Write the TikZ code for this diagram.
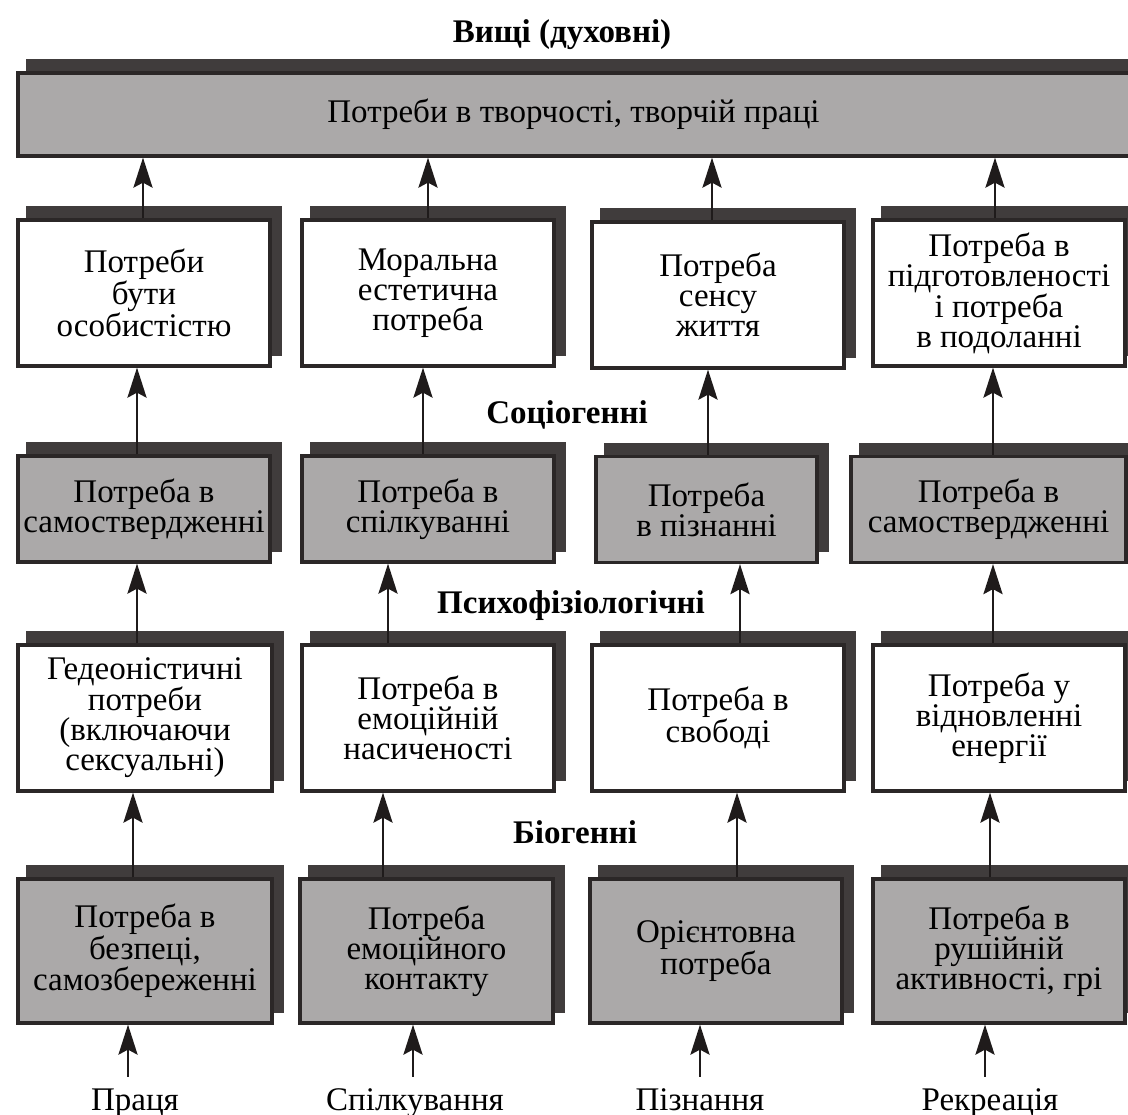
\documentclass[tikz,border=0pt]{standalone}
\usepackage{fontspec}
\setmainfont{Liberation Serif}
\usetikzlibrary{shadows,arrows.meta}
\definecolor{boxgray}{HTML}{ABA9A9}
\definecolor{shadowc}{HTML}{403C3C}
\definecolor{edgec}{HTML}{2B2727}
\definecolor{arrc}{HTML}{1F1B1B}
\begin{document}
\begin{tikzpicture}[x=1pt,y=-1pt,
  basebox/.style={draw=edgec, line width=3.2pt, inner sep=0pt, align=center,
    font=\fontsize{33}{30}\selectfont,
    copy shadow={shadow xshift=10pt, shadow yshift=12pt, fill=shadowc, draw=shadowc}},
  graybox/.style={basebox, fill=boxgray},
  whitebox/.style={basebox, fill=white},
  level/.style={font=\fontsize{33}{30}\selectfont\bfseries, anchor=base, inner sep=0pt},
  source/.style={font=\fontsize{33}{30}\selectfont, anchor=base, inner sep=0pt, text height=22pt, text depth=7pt},
  arr/.style={draw=arrc, line width=2.8pt, -{Stealth[length=30pt,width=19pt,inset=5pt]}}
]
\useasboundingbox (0,0) rectangle (1128,1115);

% level labels
\node[level] (lv1) at (562,43) {Вищі (духовні)};
\node[level] (lv2) at (567,424) {Соціогенні};
\node[level] (lv3) at (571,613) {Психофізіологічні};
\node[level] (lv4) at (575,843) {Біогенні};

% top box
\node[graybox, minimum width=1127, minimum height=83] (top) at (581.5,114.5)
  {\hspace*{-16pt}Потреби в творчості, творчій праці};

% row 1
\node[whitebox, minimum width=252, minimum height=146] (r1c1) at (144,293) {Потреби\\бути\\особистістю};
\node[whitebox, minimum width=252, minimum height=146] (r1c2) at (428,293) {Моральна\\естетична\\потреба};
\node[whitebox, minimum width=252, minimum height=146] (r1c3) at (718,295) {Потреба\\сенсу\\життя};
\node[whitebox, minimum width=252, minimum height=146] (r1c4) at (999,293) {Потреба в\\підготовленості\\і потреба\\в подоланні};

% row 2
\node[graybox, minimum width=252, minimum height=106] (r2c1) at (144,509) {Потреба в\\самоствердженні};
\node[graybox, minimum width=252, minimum height=106] (r2c2) at (428,509) {Потреба в\\спілкуванні};
\node[graybox, minimum width=221, minimum height=106] (r2c3) at (706.5,509.5) {Потреба\\в пізнанні};
\node[graybox, minimum width=275, minimum height=106] (r2c4) at (988.5,509.5) {Потреба в\\самоствердженні};

% row 3
\node[whitebox, minimum width=254, minimum height=146] (r3c1) at (145,718) {Гедеоністичні\\потреби\\(включаючи\\сексуальні)};
\node[whitebox, minimum width=252, minimum height=146] (r3c2) at (428,718) {Потреба в\\емоційній\\насиченості};
\node[whitebox, minimum width=252, minimum height=146] (r3c3) at (718,718) {Потреба в\\свободі};
\node[whitebox, minimum width=252, minimum height=146] (r3c4) at (999,718) {Потреба у\\відновленні\\енергії};

% row 4
\node[graybox, minimum width=254, minimum height=144] (r4c1) at (145,951) {Потреба в\\безпеці,\\самозбереженні};
\node[graybox, minimum width=253, minimum height=144] (r4c2) at (426.5,951) {Потреба\\емоційного\\контакту};
\node[graybox, minimum width=252, minimum height=144] (r4c3) at (716,951) {Орієнтовна\\потреба};
\node[graybox, minimum width=252, minimum height=144] (r4c4) at (999,951) {Потреба в\\рушійній\\активності, грі};

% sources
\node[source] (s1) at (135,1110) {Праця};
\node[source] (s2) at (415,1110) {Спілкування};
\node[source] (s3) at (700,1110) {Пізнання};
\node[source] (s4) at (990,1110) {Рекреація};

% arrow x positions
\coordinate (a11) at (143,0); \coordinate (a12) at (428,0); \coordinate (a13) at (712,0); \coordinate (a14) at (995,0);
\coordinate (a21) at (137,0); \coordinate (a22) at (423,0); \coordinate (a23) at (708,0); \coordinate (a24) at (993,0);
\coordinate (a31) at (137,0); \coordinate (a32) at (388,0); \coordinate (a33) at (740,0); \coordinate (a34) at (993,0);
\coordinate (a41) at (133,0); \coordinate (a42) at (383,0); \coordinate (a43) at (737,0); \coordinate (a44) at (990,0);
\coordinate (a51) at (128,0); \coordinate (a52) at (413,0); \coordinate (a53) at (700,0); \coordinate (a54) at (985,0);

\draw[arr] (r1c1.north -| a11) -- (top.south -| a11);
\draw[arr] (r1c2.north -| a12) -- (top.south -| a12);
\draw[arr] (r1c3.north -| a13) -- (top.south -| a13);
\draw[arr] (r1c4.north -| a14) -- (top.south -| a14);

\draw[arr] (r2c1.north -| a21) -- (r1c1.south -| a21);
\draw[arr] (r2c2.north -| a22) -- (r1c2.south -| a22);
\draw[arr] (r2c3.north -| a23) -- (r1c3.south -| a23);
\draw[arr] (r2c4.north -| a24) -- (r1c4.south -| a24);

\draw[arr] (r3c1.north -| a31) -- (r2c1.south -| a31);
\draw[arr] (r3c2.north -| a32) -- (r2c2.south -| a32);
\draw[arr] (r3c3.north -| a33) -- (r2c3.south -| a33);
\draw[arr] (r3c4.north -| a34) -- (r2c4.south -| a34);

\draw[arr] (r4c1.north -| a41) -- (r3c1.south -| a41);
\draw[arr] (r4c2.north -| a42) -- (r3c2.south -| a42);
\draw[arr] (r4c3.north -| a43) -- (r3c3.south -| a43);
\draw[arr] (r4c4.north -| a44) -- (r3c4.south -| a44);

\draw[arr, shorten <=11pt] (s1.north -| a51) -- (r4c1.south -| a51);
\draw[arr, shorten <=11pt] (s2.north -| a52) -- (r4c2.south -| a52);
\draw[arr, shorten <=11pt] (s3.north -| a53) -- (r4c3.south -| a53);
\draw[arr, shorten <=11pt] (s4.north -| a54) -- (r4c4.south -| a54);
\end{tikzpicture}
\end{document}
